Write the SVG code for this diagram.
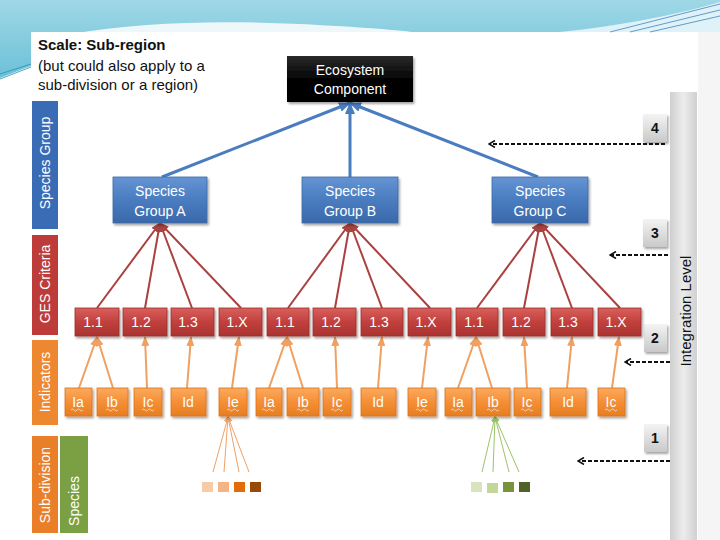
<svg xmlns="http://www.w3.org/2000/svg" width="720" height="540" viewBox="0 0 720 540">
<style>
  text { font-family: "Liberation Sans", "DejaVu Sans", sans-serif; }
  .wt { fill: #ffffff; font-size: 14px; text-anchor: middle; }
  .bar { fill: #ffffff; font-size: 14px; text-anchor: middle; }
  .num { fill: #111111; font-size: 14px; font-weight: bold; text-anchor: middle; }
  .blue { fill: url(#gBlue); stroke: #3d6aa6; stroke-width: 0.8; }
  .red { fill: url(#gRed); stroke: #9b2d2b; stroke-width: 0.8; }
  .org { fill: url(#gOrg); stroke: #d9741c; stroke-width: 0.8; }
  .gray { fill: url(#gGray); }
  .lb { stroke: #4a7cc0; stroke-width: 3; fill: none; }
  .lr { stroke: #a9413f; stroke-width: 2; fill: none; }
  .lo { stroke: #f0a060; stroke-width: 2; fill: none; }
  .fo { stroke: #f2a063; stroke-width: 1; fill: none; }
  .fg { stroke: #9bc46a; stroke-width: 1; fill: none; }
  .dash { stroke: #111111; stroke-width: 2; stroke-dasharray: 4 2; fill: none; }
  .sq { stroke: none; }
  .wavy { stroke: #fbe0c0; stroke-width: 0.8; fill: none; }
</style>
<defs>
  <linearGradient id="gBlue" x1="0" y1="0" x2="0" y2="1">
    <stop offset="0" stop-color="#6494d3"/>
    <stop offset="0.5" stop-color="#4a7cc0"/>
    <stop offset="1" stop-color="#3a69aa"/>
  </linearGradient>
  <linearGradient id="gRed" x1="0" y1="0" x2="0" y2="1">
    <stop offset="0" stop-color="#d8605d"/>
    <stop offset="0.5" stop-color="#c2403d"/>
    <stop offset="1" stop-color="#a83330"/>
  </linearGradient>
  <linearGradient id="gOrg" x1="0" y1="0" x2="0" y2="1">
    <stop offset="0" stop-color="#fbaa5f"/>
    <stop offset="0.5" stop-color="#f58f35"/>
    <stop offset="1" stop-color="#e67d22"/>
  </linearGradient>
  <linearGradient id="gBlack" x1="0" y1="0" x2="0" y2="1">
    <stop offset="0" stop-color="#2a2a2a"/>
    <stop offset="0.5" stop-color="#050505"/>
    <stop offset="1" stop-color="#000000"/>
  </linearGradient>
  <linearGradient id="gGray" x1="0" y1="0" x2="0" y2="1">
    <stop offset="0" stop-color="#f4f4f4"/>
    <stop offset="1" stop-color="#c9c9c9"/>
  </linearGradient>
  <linearGradient id="gBar" x1="0" y1="0" x2="1" y2="0">
    <stop offset="0" stop-color="#cfcfcf"/>
    <stop offset="0.5" stop-color="#ececec"/>
    <stop offset="1" stop-color="#d0d0d0"/>
  </linearGradient>
  <linearGradient id="gSky" x1="0" y1="0" x2="0" y2="1">
    <stop offset="0" stop-color="#9fd8e6"/>
    <stop offset="1" stop-color="#6cc0d8"/>
  </linearGradient>
  <filter id="sh" x="-10%" y="-10%" width="130%" height="140%">
    <feDropShadow dx="1.5" dy="2" stdDeviation="1.2" flood-color="#000" flood-opacity="0.35"/>
  </filter>
  <marker id="aB" markerUnits="userSpaceOnUse" markerWidth="12" markerHeight="10" refX="11" refY="5" orient="auto">
    <path d="M0,0 L12,5 L0,10 Z" fill="#4a7cc0"/>
  </marker>
  <marker id="aR" markerUnits="userSpaceOnUse" markerWidth="10" markerHeight="8" refX="9" refY="4" orient="auto">
    <path d="M0,0 L10,4 L0,8 Z" fill="#a9413f"/>
  </marker>
  <marker id="aO" markerUnits="userSpaceOnUse" markerWidth="10" markerHeight="8" refX="9" refY="4" orient="auto">
    <path d="M0,0 L10,4 L0,8 Z" fill="#f0a060"/>
  </marker>
  <marker id="aFo" markerUnits="userSpaceOnUse" markerWidth="6" markerHeight="6" refX="5" refY="3" orient="auto">
    <path d="M0,0 L6,3 L0,6 Z" fill="#f2a063"/>
  </marker>
  <marker id="aFg" markerUnits="userSpaceOnUse" markerWidth="6" markerHeight="6" refX="5" refY="3" orient="auto">
    <path d="M0,0 L6,3 L0,6 Z" fill="#9bc46a"/>
  </marker>
  <marker id="aK" markerUnits="userSpaceOnUse" markerWidth="8" markerHeight="8" refX="7" refY="4" orient="auto">
    <path d="M1,0.5 L7,4 L1,7.5" fill="none" stroke="#111" stroke-width="1.6"/>
  </marker>
</defs>

<!-- background -->
<rect x="0" y="0" width="720" height="540" fill="#ffffff"/>
<rect x="698" y="32" width="22" height="508" fill="#f5f5f5"/>
<path d="M0,0 H720 V32 H31 V66 L0,78 Z" fill="url(#gSky)"/>
<path d="M70,34 C140,22 220,20 300,24 C360,27 400,30 420,33 L70,33 Z" fill="#ffffff" opacity="0.85"/>
<path d="M560,32 C620,26 680,14 720,2 V32 Z" fill="#dff2f7"/>
<path d="M610,32 L720,4 M630,32 L720,10 M650,32 L720,16" stroke="#2f73b8" stroke-width="0.7" fill="none"/>
<path d="M0,79 L31,67 M0,74 L31,64" stroke="#2a8fb5" stroke-width="0.8" fill="none"/>

<!-- title text -->
<g id="scale-label">
  <text x="38" y="50" style="font-size:15px;font-weight:bold;fill:#111">Scale: Sub-region</text>
  <text x="38" y="71" style="font-size:15px;fill:#111">(but could also apply to a</text>
  <text x="38" y="90" style="font-size:15px;fill:#111">sub-division or a region)</text>
</g>

<!-- left level bars -->
<g id="bar-species-group">
  <rect x="32" y="101" width="26" height="128" fill="#3a6cb5"/>
  <text class="bar" transform="translate(50,163) rotate(-90)">Species Group</text>
</g>
<g id="bar-ges-criteria">
  <rect x="32" y="235" width="26" height="100" fill="#bd3b39"/>
  <text class="bar" transform="translate(50,284) rotate(-90)">GES Criteria</text>
</g>
<g id="bar-indicators">
  <rect x="32" y="340" width="26" height="85" fill="#ee8830"/>
  <text class="bar" transform="translate(50,382) rotate(-90)">Indicators</text>
</g>
<g id="bar-sub-division">
  <rect x="32" y="436" width="26" height="97" fill="#ea7f2a"/>
  <text class="bar" transform="translate(50,485) rotate(-90)">Sub-division</text>
</g>
<g id="bar-species">
  <rect x="60" y="436" width="28" height="97" fill="#7aa043"/>
  <text class="bar" transform="translate(79,501) rotate(-90)">Species</text>
</g>

<!-- integration level bar -->
<g id="integration-level">
  <rect x="670" y="92" width="27" height="448" fill="url(#gBar)"/>
  <text transform="translate(691,311) rotate(-90)" style="font-size:15px;fill:#111;text-anchor:middle">Integration Level</text>
</g>
<g id="level-4"><rect x="643" y="114" width="24" height="28" class="gray" filter="url(#sh)"/><text class="num" x="655" y="133">4</text></g>
<g id="level-3"><rect x="643" y="219" width="24" height="28" class="gray" filter="url(#sh)"/><text class="num" x="655" y="238">3</text></g>
<g id="level-2"><rect x="644" y="324" width="23" height="28" class="gray" filter="url(#sh)"/><text class="num" x="655" y="343">2</text></g>
<g id="level-1"><rect x="644" y="424" width="23" height="28" class="gray" filter="url(#sh)"/><text class="num" x="655" y="443">1</text></g>

<!-- connectors -->
<g id="connectors">
  <path class="lb" d="M162,177 L350,103" marker-end="url(#aB)"/>
  <path class="lb" d="M350,177 L350,103" marker-end="url(#aB)"/>
  <path class="lb" d="M538,177 L350,103" marker-end="url(#aB)"/>

  <path class="lr" d="M97,308 L160,223" marker-end="url(#aR)"/>
  <path class="lr" d="M145,308 L160,223" marker-end="url(#aR)"/>
  <path class="lr" d="M192,308 L160,223" marker-end="url(#aR)"/>
  <path class="lr" d="M241,308 L160,223" marker-end="url(#aR)"/>
  <path class="lr" d="M288,308 L350,223" marker-end="url(#aR)"/>
  <path class="lr" d="M335,308 L350,223" marker-end="url(#aR)"/>
  <path class="lr" d="M382,308 L350,223" marker-end="url(#aR)"/>
  <path class="lr" d="M430,308 L350,223" marker-end="url(#aR)"/>
  <path class="lr" d="M477,308 L540,223" marker-end="url(#aR)"/>
  <path class="lr" d="M524,308 L540,223" marker-end="url(#aR)"/>
  <path class="lr" d="M572,308 L540,223" marker-end="url(#aR)"/>
  <path class="lr" d="M620,308 L540,223" marker-end="url(#aR)"/>

  <path class="lo" d="M79,388 L97,337" marker-end="url(#aO)"/>
  <path class="lo" d="M113,388 L97,337" marker-end="url(#aO)"/>
  <path class="lo" d="M147,388 L145,337" marker-end="url(#aO)"/>
  <path class="lo" d="M187,388 L191,337" marker-end="url(#aO)"/>
  <path class="lo" d="M232,388 L239,337" marker-end="url(#aO)"/>
  <path class="lo" d="M269,388 L287,337" marker-end="url(#aO)"/>
  <path class="lo" d="M303,388 L287,337" marker-end="url(#aO)"/>
  <path class="lo" d="M337,388 L335,337" marker-end="url(#aO)"/>
  <path class="lo" d="M378,388 L382,337" marker-end="url(#aO)"/>
  <path class="lo" d="M422,388 L428,337" marker-end="url(#aO)"/>
  <path class="lo" d="M458,388 L476,337" marker-end="url(#aO)"/>
  <path class="lo" d="M492,388 L476,337" marker-end="url(#aO)"/>
  <path class="lo" d="M527,388 L524,337" marker-end="url(#aO)"/>
  <path class="lo" d="M567,388 L572,337" marker-end="url(#aO)"/>
  <path class="lo" d="M612,388 L619,337" marker-end="url(#aO)"/>

  <path class="fo" d="M213,472 L228,417" marker-end="url(#aFo)"/>
  <path class="fo" d="M224,472 L228,417" marker-end="url(#aFo)"/>
  <path class="fo" d="M239,472 L228,417" marker-end="url(#aFo)"/>
  <path class="fo" d="M249,472 L228,417" marker-end="url(#aFo)"/>
  <path class="fg" d="M482,472 L495,417" marker-end="url(#aFg)"/>
  <path class="fg" d="M493,472 L495,417" marker-end="url(#aFg)"/>
  <path class="fg" d="M509,472 L495,417" marker-end="url(#aFg)"/>
  <path class="fg" d="M519,472 L495,417" marker-end="url(#aFg)"/>

  <path class="dash" d="M665,144 L489,144" marker-end="url(#aK)"/>
  <path class="dash" d="M668,255 L610,255" marker-end="url(#aK)"/>
  <path class="dash" d="M670,362 L625,362" marker-end="url(#aK)"/>
  <path class="dash" d="M670,461 L578,461" marker-end="url(#aK)"/>
</g>

<!-- ecosystem -->
<g id="ecosystem-component">
  <rect x="287" y="56" width="126" height="46" fill="url(#gBlack)" filter="url(#sh)"/>
  <text class="wt" x="350" y="75">Ecosystem</text>
  <text class="wt" x="350" y="94">Component</text>
</g>

<!-- species groups -->
<g id="species-group-a">
  <rect class="blue" x="113" y="177" width="94" height="46" filter="url(#sh)"/>
  <text class="wt" x="160" y="196">Species</text><text class="wt" x="160" y="216">Group A</text>
</g>
<g id="species-group-b">
  <rect class="blue" x="302" y="177" width="96" height="46" filter="url(#sh)"/>
  <text class="wt" x="350" y="196">Species</text><text class="wt" x="350" y="216">Group B</text>
</g>
<g id="species-group-c">
  <rect class="blue" x="492" y="177" width="96" height="46" filter="url(#sh)"/>
  <text class="wt" x="540" y="196">Species</text><text class="wt" x="540" y="216">Group C</text>
</g>

<!-- GES criteria -->
<g id="crit-a-11"><rect class="red" x="75" y="308" width="44" height="28" filter="url(#sh)"/><text class="wt" x="93" y="327">1.1</text></g>
<g id="crit-a-12"><rect class="red" x="123" y="308" width="44" height="28" filter="url(#sh)"/><text class="wt" x="141" y="327">1.2</text></g>
<g id="crit-a-13"><rect class="red" x="171" y="308" width="43" height="28" filter="url(#sh)"/><text class="wt" x="188" y="327">1.3</text></g>
<g id="crit-a-1x"><rect class="red" x="219" y="308" width="43" height="28" filter="url(#sh)"/><text class="wt" x="237" y="327">1.X</text></g>
<g id="crit-b-11"><rect class="red" x="267" y="308" width="42" height="28" filter="url(#sh)"/><text class="wt" x="285" y="327">1.1</text></g>
<g id="crit-b-12"><rect class="red" x="313" y="308" width="43" height="28" filter="url(#sh)"/><text class="wt" x="331" y="327">1.2</text></g>
<g id="crit-b-13"><rect class="red" x="361" y="308" width="42" height="28" filter="url(#sh)"/><text class="wt" x="379" y="327">1.3</text></g>
<g id="crit-b-1x"><rect class="red" x="408" y="308" width="43" height="28" filter="url(#sh)"/><text class="wt" x="426" y="327">1.X</text></g>
<g id="crit-c-11"><rect class="red" x="456" y="308" width="42" height="28" filter="url(#sh)"/><text class="wt" x="474" y="327">1.1</text></g>
<g id="crit-c-12"><rect class="red" x="503" y="308" width="42" height="28" filter="url(#sh)"/><text class="wt" x="521" y="327">1.2</text></g>
<g id="crit-c-13"><rect class="red" x="551" y="308" width="42" height="28" filter="url(#sh)"/><text class="wt" x="568" y="327">1.3</text></g>
<g id="crit-c-1x"><rect class="red" x="598" y="308" width="43" height="28" filter="url(#sh)"/><text class="wt" x="616" y="327">1.X</text></g>

<!-- indicators -->
<g id="ind-a-ia"><rect class="org" x="65" y="388" width="27" height="28" filter="url(#sh)"/><text class="wt" x="78" y="407">Ia</text><path class="wavy" d="M71,410 q1.5,-2 3,0 t3,0 t3,0 t3,0"/></g>
<g id="ind-a-ib"><rect class="org" x="97" y="388" width="31" height="28" filter="url(#sh)"/><text class="wt" x="112" y="407">Ib</text><path class="wavy" d="M106,410 q1.5,-2 3,0 t3,0 t3,0 t3,0"/></g>
<g id="ind-a-ic"><rect class="org" x="134" y="388" width="28" height="28" filter="url(#sh)"/><text class="wt" x="148" y="407">Ic</text><path class="wavy" d="M142,410 q1.5,-2 3,0 t3,0 t3,0 t3,0"/></g>
<g id="ind-a-id"><rect class="org" x="171" y="388" width="35" height="28" filter="url(#sh)"/><text class="wt" x="188" y="407">Id</text></g>
<g id="ind-a-ie"><rect class="org" x="219" y="388" width="28" height="28" filter="url(#sh)"/><text class="wt" x="233" y="407">Ie</text><path class="wavy" d="M227,410 q1.5,-2 3,0 t3,0 t3,0 t3,0"/></g>
<g id="ind-b-ia"><rect class="org" x="256" y="388" width="26" height="28" filter="url(#sh)"/><text class="wt" x="269" y="407">Ia</text><path class="wavy" d="M262,410 q1.5,-2 3,0 t3,0 t3,0 t3,0"/></g>
<g id="ind-b-ib"><rect class="org" x="287" y="388" width="32" height="28" filter="url(#sh)"/><text class="wt" x="303" y="407">Ib</text><path class="wavy" d="M297,410 q1.5,-2 3,0 t3,0 t3,0 t3,0"/></g>
<g id="ind-b-ic"><rect class="org" x="323" y="388" width="28" height="28" filter="url(#sh)"/><text class="wt" x="337" y="407">Ic</text><path class="wavy" d="M331,410 q1.5,-2 3,0 t3,0 t3,0 t3,0"/></g>
<g id="ind-b-id"><rect class="org" x="361" y="388" width="35" height="28" filter="url(#sh)"/><text class="wt" x="378" y="407">Id</text></g>
<g id="ind-b-ie"><rect class="org" x="408" y="388" width="28" height="28" filter="url(#sh)"/><text class="wt" x="422" y="407">Ie</text><path class="wavy" d="M416,410 q1.5,-2 3,0 t3,0 t3,0 t3,0"/></g>
<g id="ind-c-ia"><rect class="org" x="445" y="388" width="27" height="28" filter="url(#sh)"/><text class="wt" x="458" y="407">Ia</text><path class="wavy" d="M451,410 q1.5,-2 3,0 t3,0 t3,0 t3,0"/></g>
<g id="ind-c-ib"><rect class="org" x="476" y="388" width="34" height="28" filter="url(#sh)"/><text class="wt" x="493" y="407">Ib</text><path class="wavy" d="M487,410 q1.5,-2 3,0 t3,0 t3,0 t3,0"/></g>
<g id="ind-c-ic"><rect class="org" x="514" y="388" width="27" height="28" filter="url(#sh)"/><text class="wt" x="527" y="407">Ic</text><path class="wavy" d="M521,410 q1.5,-2 3,0 t3,0 t3,0 t3,0"/></g>
<g id="ind-c-id"><rect class="org" x="550" y="388" width="36" height="28" filter="url(#sh)"/><text class="wt" x="568" y="407">Id</text></g>
<g id="ind-c-ic2"><rect class="org" x="598" y="388" width="27" height="28" filter="url(#sh)"/><text class="wt" x="611" y="407">Ic</text><path class="wavy" d="M605,410 q1.5,-2 3,0 t3,0 t3,0 t3,0"/></g>

<!-- species squares -->
<g id="species-orange">
  <rect class="sq" x="202" y="482" width="11" height="10" fill="#f8cba7"/>
  <rect class="sq" x="218" y="482" width="11" height="10" fill="#f5b483"/>
  <rect class="sq" x="234" y="482" width="11" height="10" fill="#e36c09"/>
  <rect class="sq" x="250" y="482" width="11" height="10" fill="#984807"/>
</g>
<g id="species-green">
  <rect class="sq" x="471" y="482" width="11" height="10" fill="#d7e4bd"/>
  <rect class="sq" x="487" y="483" width="11" height="10" fill="#c3d69b"/>
  <rect class="sq" x="503" y="482" width="11" height="10" fill="#77933c"/>
  <rect class="sq" x="519" y="482" width="11" height="10" fill="#4f6228"/>
</g>
</svg>
